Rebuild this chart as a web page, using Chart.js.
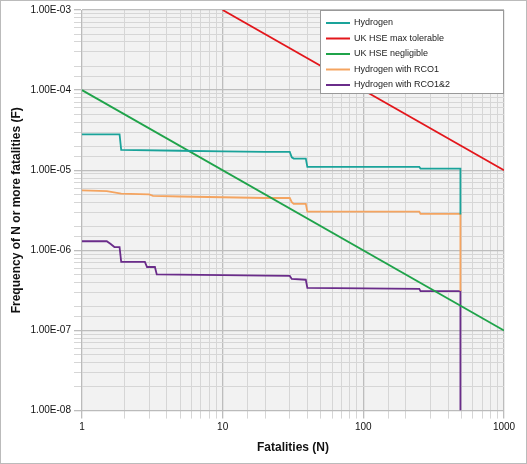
<!DOCTYPE html>
<html>
<head>
<meta charset="UTF-8">
<script src="https://cdn.jsdelivr.net/npm/chart.js"></script>
<style>
  body { margin: 0; background: #fff; font-family: "Liberation Sans", Arial, sans-serif; }
  .wrap { width: 527px; height: 464px; box-sizing: border-box; border: 1px solid #bbb; }
</style>
</head>
<body>
<div class="wrap"><canvas id="c" width="525" height="462"></canvas></div>
<script>
// F-N curve data (N, F)
const hydrogen = [[1,2.8e-5],[1.85,2.8e-5],[1.9,1.8e-5],[5,1.75e-5],[10,1.72e-5],[20,1.7e-5],[30,1.7e-5],[31,1.45e-5],[32,1.4e-5],[39,1.4e-5],[40,1.1e-5],[250,1.1e-5],[255,1.05e-5],[490,1.05e-5],[490,2.8e-6]];
const hydrogenRco1 = [[1,5.6e-6],[1.5,5.5e-6],[1.9,5.1e-6],[3,5e-6],[3.2,4.8e-6],[5,4.7e-6],[10,4.6e-6],[20,4.5e-6],[30,4.5e-6],[31,4e-6],[32,3.8e-6],[39,3.8e-6],[40,3.05e-6],[250,3.05e-6],[255,2.85e-6],[490,2.85e-6],[490,3.1e-7]];
const hydrogenRco12 = [[1,1.3e-6],[1.5,1.3e-6],[1.6,1.2e-6],[1.7,1.1e-6],[1.85,1.1e-6],[1.9,7.2e-7],[2.8,7.2e-7],[2.9,6.2e-7],[3.3,6.2e-7],[3.4,5e-7],[10,4.9e-7],[20,4.85e-7],[30,4.8e-7],[31,4.4e-7],[39,4.3e-7],[40,3.4e-7],[250,3.3e-7],[255,3.1e-7],[490,3.1e-7],[490,1e-8]];
const ukMaxTolerable = [[10,1e-3],[1000,1e-5]];
const ukNegligible = [[1,1e-4],[1000,1e-7]];
const seriesNames = ['Hydrogen','UK HSE max tolerable','UK HSE negligible','Hydrogen with RCO1','Hydrogen with RCO1&2'];
const seriesColors = ['#1aa39a','#e3161b','#1fa34a','#f4a460','#6a2c8a'];

const toPts = a => a.map(p => ({x: p[0], y: p[1]}));
const allData = [hydrogen, ukMaxTolerable, ukNegligible, hydrogenRco1, hydrogenRco12];

const isMajor = v => { const l = Math.log10(v); return Math.abs(l - Math.round(l)) < 1e-6; };

const bgPlugin = {
  id: 'bg',
  beforeDraw(chart) {
    const a = chart.chartArea, ctx = chart.ctx;
    ctx.save(); ctx.fillStyle = '#f2f2f2';
    ctx.fillRect(a.left, a.top, a.right - a.left, a.bottom - a.top);
    ctx.restore();
  }
};

// legend box in the top right corner of the plot
const legendBox = {
  id: 'legendBox',
  afterDraw(chart) {
    const a = chart.chartArea, ctx = chart.ctx;
    const w = 184, h = 84, x0 = a.right - w, y0 = a.top;
    ctx.save();
    ctx.fillStyle = '#fff'; ctx.strokeStyle = '#999'; ctx.lineWidth = 1;
    ctx.fillRect(x0, y0, w, h); ctx.strokeRect(x0 + 0.5, y0 + 0.5, w - 1, h - 1);
    ctx.font = '9px "Liberation Sans"'; ctx.textBaseline = 'middle';
    chart.data.datasets.forEach((ds, i) => {
      const y = y0 + 13 + i * 15.5;
      ctx.strokeStyle = ds.borderColor; ctx.lineWidth = 2;
      ctx.beginPath(); ctx.moveTo(x0 + 6, y); ctx.lineTo(x0 + 30, y); ctx.stroke();
      ctx.fillStyle = '#222'; ctx.fillText(ds.label, x0 + 34, y);
    });
    ctx.restore();
  }
};

new Chart(document.getElementById('c'), {
  type: 'line',
  data: {
    datasets: allData.map((d, i) => ({
      label: seriesNames[i], data: toPts(d), borderColor: seriesColors[i],
      backgroundColor: seriesColors[i], borderWidth: 1.8, pointRadius: 0, fill: false, tension: 0
    }))
  },
  options: {
    animation: false, responsive: false,
    layout: { padding: { top: 8, right: 22, left: 4, bottom: 4 } },
    plugins: { legend: { display: false }, tooltip: { enabled: false } },
    scales: {
      x: {
        type: 'logarithmic', min: 1, max: 1000,
        title: { display: true, text: 'Fatalities (N)', font: { size: 12, weight: 'bold', family: 'Liberation Sans' }, color: '#111' },
        ticks: { autoSkip: false, maxRotation: 0, font: { size: 10, family: 'Liberation Sans' }, color: '#111', callback: v => isMajor(v) ? String(v) : '' },
        grid: { color: ctx => isMajor(ctx.tick.value) ? '#bdbdbd' : '#d6d6d6', lineWidth: ctx => isMajor(ctx.tick.value) ? 1.3 : 1 },
        border: { color: '#bbb' }
      },
      y: {
        type: 'logarithmic', min: 1e-8, max: 1e-3,
        title: { display: true, text: 'Frequency of N or more fatalities (F)', font: { size: 12, weight: 'bold', family: 'Liberation Sans' }, color: '#111' },
        ticks: { autoSkip: false, font: { size: 10, family: 'Liberation Sans' }, color: '#111',
          callback: v => isMajor(v) ? v.toExponential(2).replace('e-', 'E-0').toUpperCase() : '' },
        grid: { color: ctx => isMajor(ctx.tick.value) ? '#bdbdbd' : '#d6d6d6', lineWidth: ctx => isMajor(ctx.tick.value) ? 1.3 : 1 },
        border: { color: '#bbb' }
      }
    }
  },
  plugins: [bgPlugin, legendBox]
});
</script>
</body>
</html>
